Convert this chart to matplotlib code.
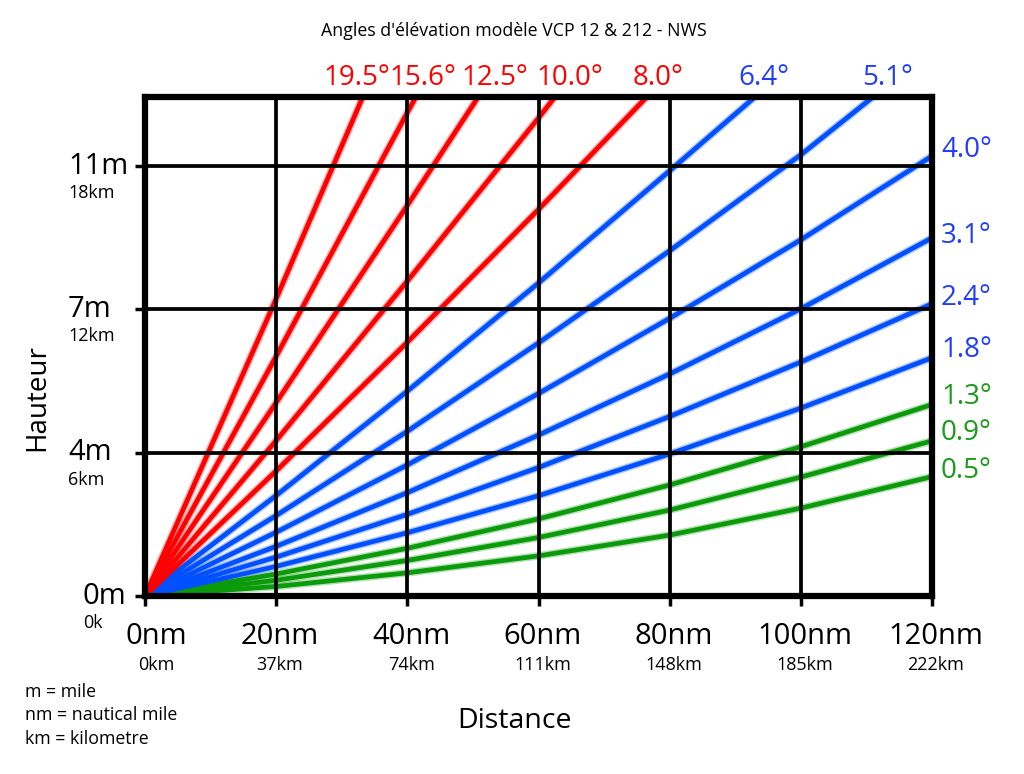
import matplotlib
matplotlib.use("Agg")
import matplotlib.pyplot as plt
from matplotlib.transforms import blended_transform_factory

plt.rcParams['font.family'] = ['Open Sans', 'DejaVu Sans']

distance_nm = [0, 20, 40, 60, 80, 100, 120]

# beam heights in km for the low beams that reach the right edge
h_05 = [0, 0.40, 0.97, 1.68, 2.55, 3.68, 5.00]
h_09 = [0, 0.66, 1.49, 2.45, 3.60, 4.98, 6.50]
h_13 = [0, 0.92, 2.00, 3.23, 4.65, 6.25, 8.02]
h_18 = [0, 1.24, 2.65, 4.20, 5.95, 7.87, 9.98]
h_24 = [0, 1.63, 3.42, 5.38, 7.52, 9.80, 12.24]
h_31 = [0, 2.08, 4.33, 6.74, 9.30, 12.03, 15.00]
h_40 = [0, 2.67, 5.49, 8.48, 11.63, 14.92, 18.43]

# steeper beams leave through the top of the chart
d_51 = [0, 20, 40, 60, 80, 100, 111]
h_51 = [0, 3.37, 6.90, 10.60, 14.46, 18.48, 20.9]
d_64 = [0, 20, 40, 60, 80, 93]
h_64 = [0, 4.21, 8.58, 13.11, 17.81, 20.9]
d_80 = [0, 20, 40, 60, 76.5]
h_80 = [0, 5.24, 10.63, 16.19, 20.9]
d_100 = [0, 20, 40, 60, 62.5]
h_100 = [0, 6.51, 13.19, 20.02, 20.9]
d_125 = [0, 20, 40, 50.8]
h_125 = [0, 8.10, 16.36, 20.9]
d_156 = [0, 20, 40, 41.3]
h_156 = [0, 10.04, 20.25, 20.9]
d_195 = [0, 20, 33.2]
h_195 = [0, 12.45, 20.9]

x_ticks_nm = [0, 20, 40, 60, 80, 100, 120]
x_labels_nm = ["0nm", "20nm", "40nm", "60nm", "80nm", "100nm", "120nm"]
x_labels_km = ["0km", "37km", "74km", "111km", "148km", "185km", "222km"]
y_ticks_km = [0, 6, 12, 18]
y_labels_mi = ["0m", "4m", "7m", "11m"]
y_labels_km = ["0k", "6km", "12km", "18km"]

RED = "#ff0000"
BLUE = "#0050ff"
GREEN = "#0a9a0a"
BLUE_TXT = "#1f3dff"
GREEN_TXT = "#199a19"

green_beams = [(distance_nm, h_05), (distance_nm, h_09), (distance_nm, h_13)]
blue_beams = [(distance_nm, h_18), (distance_nm, h_24), (distance_nm, h_31),
              (distance_nm, h_40), (d_51, h_51), (d_64, h_64)]
red_beams = [(d_80, h_80), (d_100, h_100), (d_125, h_125),
             (d_156, h_156), (d_195, h_195)]

W, H = 1024, 774
fig = plt.figure(figsize=(W / 100, H / 100), dpi=100)
ax = fig.add_axes([145 / W, 1 - 596 / H, (932 - 145) / W, (596 - 97) / H])


def px(x, y):
    return x / W, 1 - y / H


for beams, col in [(green_beams, GREEN), (blue_beams, BLUE), (red_beams, RED)]:
    for d, h in beams:
        ax.plot(d, h, color=col, lw=5.5, alpha=0.3, solid_capstyle='butt', zorder=2)
        ax.plot(d, h, color=col, lw=3.4, solid_capstyle='butt', zorder=3)

ax.set_xlim(0, 120)
ax.set_ylim(0, 20.9)
for x in x_ticks_nm[1:-1]:
    ax.axvline(x, color='black', lw=2.7, zorder=4)
for y in y_ticks_km[1:]:
    ax.axhline(y, color='black', lw=2.7, zorder=4)
for s in ax.spines.values():
    s.set_linewidth(4.5)
    s.set_zorder(5)

ax.set_xticks(x_ticks_nm)
ax.set_yticks(y_ticks_km)
ax.set_xticklabels([])
ax.set_yticklabels([])
ax.tick_params(direction='out', length=7, width=2.5, color='black')

# x tick labels (nm big, km small)
tx = blended_transform_factory(ax.transData, fig.transFigure)
for i, x in enumerate(x_ticks_nm):
    off = 1.7 if i == 0 else 0.6
    ax.text(x + off, 1 - 637 / H, x_labels_nm[i], transform=tx, ha='center',
            va='center', fontsize=21)
    ax.text(x + off, 1 - 665 / H, x_labels_km[i], transform=tx, ha='center',
            va='center', fontsize=13)

# y tick labels (miles big, km small)
ty = blended_transform_factory(fig.transFigure, ax.transData)
for i, y in enumerate(y_ticks_km):
    left = 83 / W if i == 0 else 68 / W
    ax.text(left, y, y_labels_mi[i], transform=ty, ha='left', va='center',
            fontsize=21)
    ax.text(left, y - 27 / 23.88, y_labels_km[i], transform=ty, ha='left',
            va='center', fontsize=13)

fig.text(*px(514, 31), "Angles d'élévation modèle VCP 12 & 212 - NWS",
         ha='center', va='center', fontsize=12.8)
fig.text(*px(515, 721), "Distance", ha='center', va='center', fontsize=20.5)
fig.text(*px(37, 398), "Hauteur", ha='center', va='center', fontsize=20,
         rotation=90)

for i, note in enumerate(["m = mile", "nm = nautical mile", "km = kilometre"]):
    fig.text(*px(25, 692 + 23.5 * i), note, ha='left', va='center', fontsize=12.8)

# angle labels along the top
top_labels = ["19.5°", "15.6°", "12.5°", "10.0°", "8.0°", "6.4°", "5.1°"]
top_x = [357, 423, 495, 570, 658, 764, 888]
top_col = [RED] * 5 + [BLUE_TXT] * 2
for lab, x, c in zip(top_labels, top_x, top_col):
    fig.text(*px(x, 78), lab, ha='center', va='center', fontsize=20, color=c)

# angle labels on the right edge
right_labels = ["4.0°", "3.1°", "2.4°", "1.8°", "1.3°", "0.9°", "0.5°"]
right_y = [150, 236, 298, 350, 397, 433, 471]
right_col = [BLUE_TXT] * 4 + [GREEN_TXT] * 3
for lab, y, c in zip(right_labels, right_y, right_col):
    fig.text(*px(941, y), lab, ha='left', va='center', fontsize=20, color=c)

fig.savefig("out.png", dpi=100)
